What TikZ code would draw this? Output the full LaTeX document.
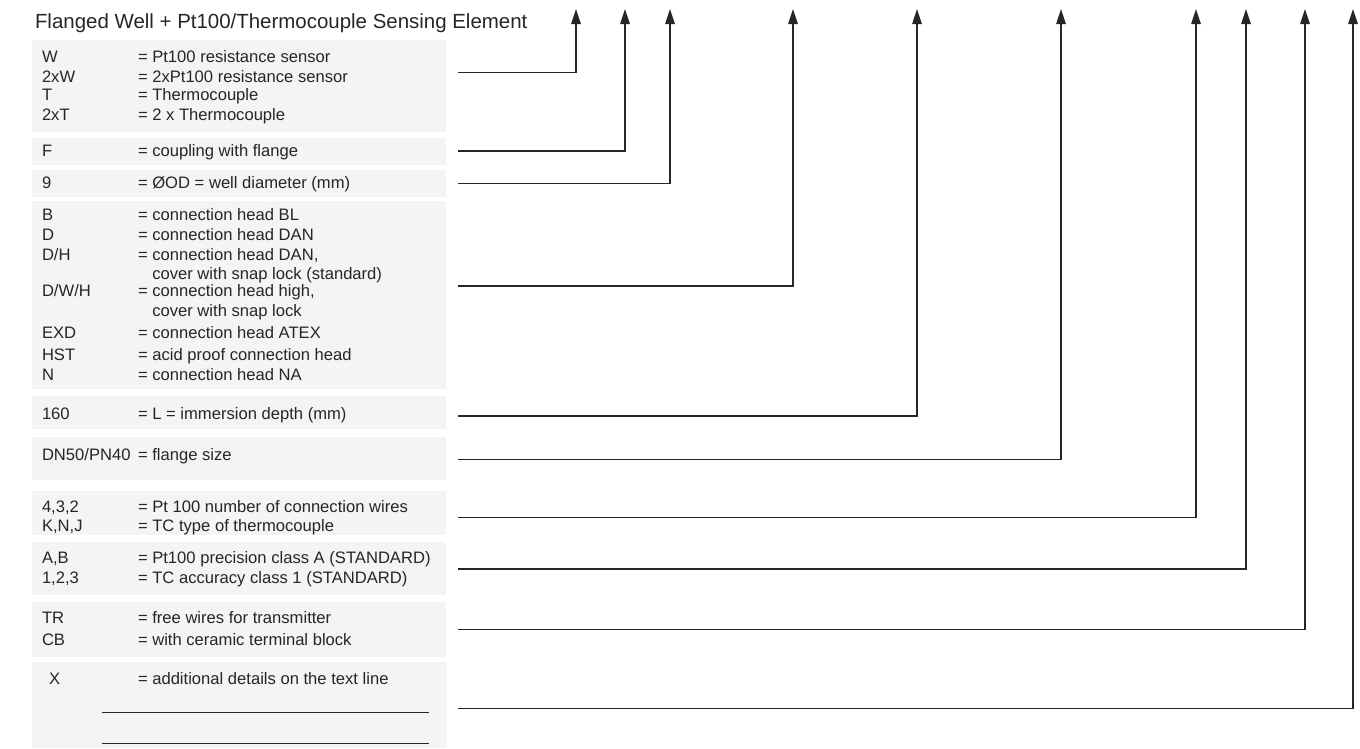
\documentclass[tikz,border=0pt]{standalone}
\usepackage{fontspec}
\setmainfont{Liberation Sans}
\usetikzlibrary{arrows.meta}

\definecolor{panelgray}{HTML}{F4F4F4}
\definecolor{ink}{HTML}{262626}
\newcommand\titlefont{\fontsize{20.45}{24}\selectfont}
\newcommand\bodyfont{\fontsize{16.6}{20}\selectfont}
\newcommand\eqpad{\phantom{= }}

\tikzset{
  panel/.style={fill=panelgray, draw=none, anchor=north west, inner sep=0pt,
    outer sep=0pt, minimum width=414pt},
  txt/.style={anchor=base west, inner sep=0pt, outer sep=0pt, text=ink, font=\bodyfont},
  conn/.style={draw=ink, line width=1.2pt, line join=miter,
    -{Triangle[length=15pt,width=9.5pt]}},
  rule/.style={draw=ink, line width=1pt},
}

\begin{document}
\begin{tikzpicture}[x=1pt, y=-1pt]
\useasboundingbox (0,0) rectangle (1360,748);

% title
\node[txt, font=\titlefont] (title) at (35,28.3) {Flanged Well + Pt100/Thermocouple Sensing Element};

% grey panels, one per order-code group
\node[panel, minimum height=92pt] (b1)  at (32,40)  {};
\node[panel, minimum height=27pt] (b2)  at (32,138) {};
\node[panel, minimum height=27pt] (b3)  at (32,170) {};
\node[panel, minimum height=188pt] (b4) at (32,201) {};
\node[panel, minimum height=33pt] (b5)  at (32,396) {};
\node[panel, minimum height=43pt] (b6)  at (32,437) {};
\node[panel, minimum height=44pt] (b7)  at (32,491) {};
\node[panel, minimum height=53pt] (b8)  at (32,542) {};
\node[panel, minimum height=55pt] (b9)  at (32,602) {};
\node[panel, minimum height=86pt, minimum width=415pt] (b10) at (32,662) {};

% group 1: sensing element
\node[txt] (c1a) at (42,62.7)  {W};
\node[txt] (d1a) at (138,62.7) {= Pt100 resistance sensor};
\node[txt] (c1b) at (42,82.2)  {2xW};
\node[txt] (d1b) at (138,82.2) {= 2xPt100 resistance sensor};
\node[txt] (c1c) at (42,100.5) {T};
\node[txt] (d1c) at (138,100.5){= Thermocouple};
\node[txt] (c1d) at (42,120)   {2xT};
\node[txt] (d1d) at (138,120)  {= 2 x Thermocouple};

% group 2: coupling
\node[txt] (c2) at (42,156.7)  {F};
\node[txt] (d2) at (138,156.7) {= coupling with flange};

% group 3: well diameter
\node[txt] (c3) at (42,188)  {9};
\node[txt] (d3) at (138,188) {= ØOD = well diameter (mm)};

% group 4: connection head
\node[txt] (c4a) at (42,220)   {B};
\node[txt] (d4a) at (138,220)  {= connection head BL};
\node[txt] (c4b) at (42,240)   {D};
\node[txt] (d4b) at (138,240)  {= connection head DAN};
\node[txt] (c4c) at (42,260)   {D/H};
\node[txt] (d4c) at (138,260)  {= connection head DAN,};
\node[txt] (d4c2) at (138,279) {\eqpad cover with snap lock (standard)};
\node[txt] (c4d) at (42,296.5) {D/W/H};
\node[txt] (d4d) at (138,296.5){= connection head high,};
\node[txt] (d4d2) at (138,316) {\eqpad cover with snap lock};
\node[txt] (c4e) at (42,338.3) {EXD};
\node[txt] (d4e) at (138,338.3){= connection head ATEX};
\node[txt] (c4f) at (42,360)   {HST};
\node[txt] (d4f) at (138,360)  {= acid proof connection head};
\node[txt] (c4g) at (42,380)   {N};
\node[txt] (d4g) at (138,380)  {= connection head NA};

% group 5: immersion depth
\node[txt] (c5) at (42,419)  {160};
\node[txt] (d5) at (138,419) {= L = immersion depth (mm)};

% group 6: flange size
\node[txt] (c6) at (42,460)  {DN50/PN40};
\node[txt] (d6) at (138,460) {= flange size};

% group 7: wiring / thermocouple type
\node[txt] (c7a) at (42,512)   {4,3,2};
\node[txt] (d7a) at (138,512)  {= Pt 100 number of connection wires};
\node[txt] (c7b) at (42,531.5) {K,N,J};
\node[txt] (d7b) at (138,531.5){= TC type of thermocouple};

% group 8: accuracy class
\node[txt] (c8a) at (42,563)   {A,B};
\node[txt] (d8a) at (138,563)  {= Pt100 precision class A (STANDARD)};
\node[txt] (c8b) at (42,583)   {1,2,3};
\node[txt] (d8b) at (138,583)  {= TC accuracy class 1 (STANDARD)};

% group 9: terminals
\node[txt] (c9a) at (42,623)   {TR};
\node[txt] (d9a) at (138,623)  {= free wires for transmitter};
\node[txt] (c9b) at (42,645)   {CB};
\node[txt] (d9b) at (138,645)  {= with ceramic terminal block};

% group 10: additional details
\node[txt] (c10) at (49,684)  {X};
\node[txt] (d10) at (138,684) {= additional details on the text line};
\coordinate (r1a) at (102,712);
\coordinate (r1b) at (429,712);
\coordinate (r2a) at (102,743);
\coordinate (r2b) at (429,743);
\draw[rule] (r1a) -- (r1b);
\draw[rule] (r2a) -- (r2b);

% leader lines from each group up to its position in the order code
\coordinate (s1)  at (458,72.7);  \coordinate (t1)  at (576,9);
\coordinate (s2)  at (458,151);   \coordinate (t2)  at (625,9);
\coordinate (s3)  at (458,183.3); \coordinate (t3)  at (670,9);
\coordinate (s4)  at (458,286);   \coordinate (t4)  at (793,9);
\coordinate (s5)  at (458,416);   \coordinate (t5)  at (917,9);
\coordinate (s6)  at (458,459.5); \coordinate (t6)  at (1061,9);
\coordinate (s7)  at (458,517.5); \coordinate (t7)  at (1196,9);
\coordinate (s8)  at (458,569);   \coordinate (t8)  at (1246,9);
\coordinate (s9)  at (458,629.5); \coordinate (t9)  at (1305,9);
\coordinate (s10) at (458,708.3); \coordinate (t10) at (1353,9);

\foreach \i in {1,...,10}{
  \draw[conn] (s\i) -| (t\i);
}
\end{tikzpicture}
\end{document}
